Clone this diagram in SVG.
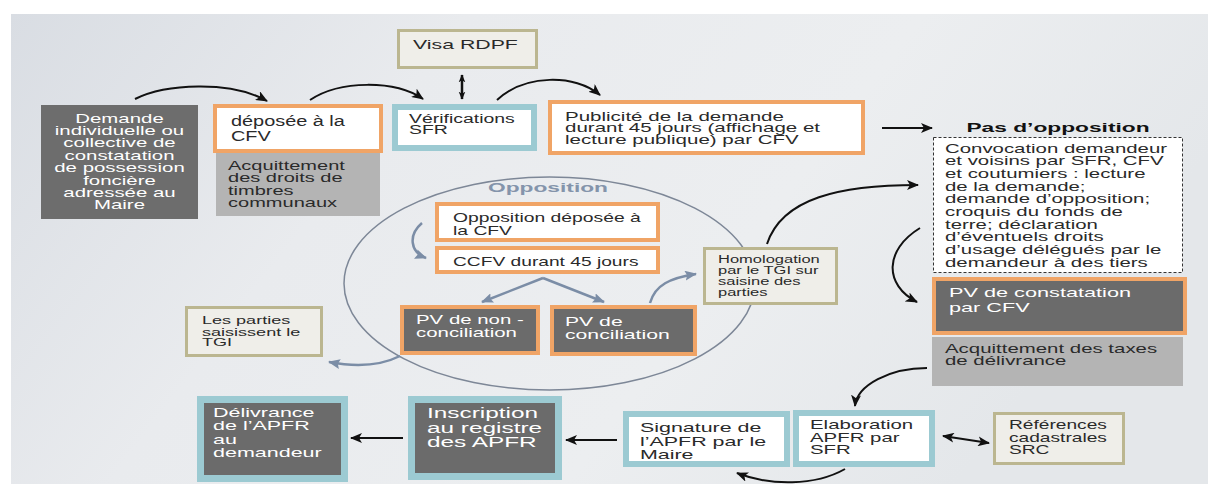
<svg xmlns="http://www.w3.org/2000/svg" width="1208" height="484" viewBox="0 0 1208 484">
<defs>
<linearGradient id="bg" x1="0" y1="0" x2="1" y2="0.3">
<stop offset="0" stop-color="#d9dde3"/>
<stop offset="0.35" stop-color="#e9ebee"/>
<stop offset="0.7" stop-color="#eceef0"/>
<stop offset="1" stop-color="#e4e7ea"/>
</linearGradient>
<marker id="ah" viewBox="0 0 12 10" refX="11" refY="5" markerWidth="12" markerHeight="10" markerUnits="userSpaceOnUse" orient="auto-start-reverse">
<path d="M0,0 L12,5 L0,10 L3,5 z" fill="#111"/>
</marker>
<marker id="ahs" viewBox="0 0 12 10" refX="11" refY="5" markerWidth="8" markerHeight="9" markerUnits="userSpaceOnUse" orient="auto-start-reverse">
<path d="M0,0 L12,5 L0,10 L3,5 z" fill="#111"/>
</marker>
<marker id="ahb" viewBox="0 0 12 10" refX="11" refY="5" markerWidth="12" markerHeight="10" markerUnits="userSpaceOnUse" orient="auto-start-reverse">
<path d="M0,0 L12,5 L0,10 L2,5 z" fill="#7b8da6"/>
</marker>
<style>
.t{font-family:"Liberation Sans",Arial,sans-serif;fill:#2a2a2a}
.w{fill:#ffffff}
.b{font-weight:bold}
.or{fill:#ffffff;stroke:#f0a466;stroke-width:4}
.ord{fill:#6b6b6b;stroke:#f0a466;stroke-width:4}
.bl{fill:#ffffff;stroke:#9ccad2;stroke-width:6}
.bld{fill:#6b6b6b;stroke:#9ccad2;stroke-width:7}
.kh{fill:#efeee9;stroke:#bbb690;stroke-width:3}
.dk{fill:#6d6d6d}
.lg{fill:#b4b4b4}
.ca{fill:none;stroke:#111;stroke-width:2;marker-end:url(#ah)}
.cb{fill:none;stroke:#7b8da6;stroke-width:2.5;marker-end:url(#ahb)}
</style>
</defs>
<rect x="0" y="0" width="1208" height="484" fill="#ffffff"/>
<rect x="11" y="14" width="1197" height="470" fill="url(#bg)"/>

<g id="opposition-zone">
<ellipse cx="549.5" cy="283.5" rx="205.5" ry="106.5" fill="none" stroke="#7d8797" stroke-width="1.5"/>
<text class="t b" transform="translate(548,191.7) scale(1.75,1)" text-anchor="middle" font-size="13" style="fill:#8494ab">Opposition</text>
</g>

<g id="connectors">
<path class="ca" d="M135,99 C165,84 230,80 267,101"/>
<path class="ca" d="M310,100 C340,80 395,80 423,99"/>
<path class="ca" d="M497,100 C525,74 575,74 600,95"/>
<path d="M462,75 L462,99" fill="none" stroke="#111" stroke-width="2.5" marker-start="url(#ahs)" marker-end="url(#ahs)"/>
<path class="ca" d="M882,128 L932,128"/>
<path class="ca" d="M767,244 C782,198 840,185 918,185"/>
<path class="ca" d="M920,228 C884,250 884,285 917,302"/>
<path class="ca" d="M927,368 C890,368 857,385 855,406"/>
<path class="ca" d="M943,436 L989,443" style="marker-start:url(#ah)"/>
<path class="ca" d="M845,469 C815,486 770,486 737,473"/>
<path class="ca" d="M617,440 L566,440"/>
<path class="ca" d="M403,438 L351,438"/>
<path class="cb" d="M422,223 C408,235 410,252 426,258"/>
<path class="cb" d="M543,278 L482,302"/>
<path class="cb" d="M543,278 L604,302"/>
<path class="cb" d="M650,303 C655,285 670,278 696,274"/>
<path class="cb" d="M400,356 C380,366 355,367 329,362"/>
</g>

<g id="demande">
<rect class="dk" x="41" y="105" width="157" height="114"/>
<text class="t w" transform="translate(119.5,122.7) scale(1.57,1)" text-anchor="middle" font-size="13">
<tspan x="0" y="0">Demande</tspan><tspan x="0" y="12.4">individuelle ou</tspan><tspan x="0" y="24.8">collective de</tspan><tspan x="0" y="37.2">constatation</tspan><tspan x="0" y="49.6">de possession</tspan><tspan x="0" y="62">foncière</tspan><tspan x="0" y="74.4">adressée au</tspan><tspan x="0" y="86.8">Maire</tspan>
</text>
</g>

<g id="deposee">
<rect class="or" x="215" y="106" width="166" height="45"/>
<text class="t" transform="translate(231,125.7) scale(1.42,1)" font-size="14"><tspan x="0" y="0">déposée à la</tspan><tspan x="0" y="15">CFV</tspan></text>
</g>

<g id="acquittement-droits">
<rect class="lg" x="216" y="153" width="164" height="63"/>
<text class="t" transform="translate(228,170) scale(1.67,1)" font-size="12"><tspan x="0" y="0">Acquittement</tspan><tspan x="0" y="12.4">des droits de</tspan><tspan x="0" y="24.8">timbres</tspan><tspan x="0" y="36.8">communaux</tspan></text>
</g>

<g id="visa">
<rect class="kh" x="398.5" y="30.5" width="138" height="37"/>
<text class="t" transform="translate(413,49) scale(1.69,1)" font-size="12.6">Visa RDPF</text>
</g>

<g id="verifications">
<rect class="bl" x="395" y="107" width="139" height="41"/>
<text class="t" transform="translate(409,122.7) scale(1.62,1)" font-size="12"><tspan x="0" y="0">Vérifications</tspan><tspan x="0" y="11.6">SFR</tspan></text>
</g>

<g id="publicite">
<rect class="or" x="550" y="102" width="313" height="51"/>
<text class="t" transform="translate(565,120.7) scale(1.63,1)" font-size="12.6"><tspan x="0" y="0">Publicité de la demande</tspan><tspan x="0" y="11.8">durant 45 jours (affichage et</tspan><tspan x="0" y="23.6">lecture publique) par CFV</tspan></text>
</g>

<g id="pas-opposition">
<text class="t b" transform="translate(1058,131.7) scale(1.75,1)" text-anchor="middle" font-size="13" style="fill:#111">Pas d’opposition</text>
<rect x="933.5" y="137.5" width="249" height="135" fill="#ffffff" stroke="#333" stroke-width="1" stroke-dasharray="3,2"/>
<text class="t" transform="translate(945,152.7) scale(1.7,1)" font-size="12"><tspan x="0" y="0">Convocation demandeur</tspan><tspan x="0" y="12.65">et voisins par SFR, CFV</tspan><tspan x="0" y="25.3">et coutumiers : lecture</tspan><tspan x="0" y="37.95">de la demande;</tspan><tspan x="0" y="50.6">demande d’opposition;</tspan><tspan x="0" y="63.25">croquis du fonds de</tspan><tspan x="0" y="75.9">terre; déclaration</tspan><tspan x="0" y="88.55">d’éventuels droits</tspan><tspan x="0" y="101.2">d’usage délégués par le</tspan><tspan x="0" y="113.85">demandeur à des tiers</tspan></text>
</g>

<g id="pv-constatation">
<rect class="ord" x="934" y="279" width="251" height="54"/>
<text class="t w" transform="translate(949,297.3) scale(1.67,1)" font-size="13"><tspan x="0" y="0">PV de constatation</tspan><tspan x="0" y="14.4">par CFV</tspan></text>
</g>

<g id="acquittement-taxes">
<rect class="lg" x="932" y="337" width="251" height="49"/>
<text class="t" transform="translate(945,353.3) scale(1.57,1)" font-size="13"><tspan x="0" y="0">Acquittement des taxes</tspan><tspan x="0" y="12.2">de délivrance</tspan></text>
</g>

<g id="opposition-deposee">
<rect class="or" x="437" y="204" width="221" height="36"/>
<text class="t" transform="translate(453,222.3) scale(1.545,1)" font-size="12.5"><tspan x="0" y="0">Opposition déposée à</tspan><tspan x="0" y="12.7">la CFV</tspan></text>
</g>

<g id="ccfv">
<rect class="or" x="437" y="248" width="221" height="24"/>
<text class="t" transform="translate(453,265.7) scale(1.535,1)" font-size="12.5">CCFV durant 45 jours</text>
</g>

<g id="pv-non-conciliation">
<rect class="ord" x="402" y="307" width="136" height="46"/>
<text class="t w" transform="translate(416,324) scale(1.62,1)" font-size="12.6"><tspan x="0" y="0">PV de non -</tspan><tspan x="0" y="12.7">conciliation</tspan></text>
</g>

<g id="pv-conciliation">
<rect class="ord" x="552" y="307" width="143" height="47"/>
<text class="t w" transform="translate(565,326) scale(1.63,1)" font-size="13"><tspan x="0" y="0">PV de</tspan><tspan x="0" y="13.3">conciliation</tspan></text>
</g>

<g id="homologation">
<rect class="kh" x="704.5" y="248.5" width="132" height="55"/>
<text class="t" transform="translate(718,263.3) scale(1.5,1)" font-size="11"><tspan x="0" y="0">Homologation</tspan><tspan x="0" y="11.1">par le TGI sur</tspan><tspan x="0" y="22.2">saisine des</tspan><tspan x="0" y="33.2">parties</tspan></text>
</g>

<g id="les-parties">
<rect class="kh" x="186.5" y="307.5" width="135" height="48"/>
<text class="t" transform="translate(202,324.3) scale(1.64,1)" font-size="11"><tspan x="0" y="0">Les parties</tspan><tspan x="0" y="11.4">saisissent le</tspan><tspan x="0" y="22.2">TGI</tspan></text>
</g>

<g id="elaboration">
<rect class="bl" x="796" y="413" width="136" height="51"/>
<text class="t" transform="translate(810,429) scale(1.62,1)" font-size="12.6"><tspan x="0" y="0">Elaboration</tspan><tspan x="0" y="12.7">APFR par</tspan><tspan x="0" y="25">SFR</tspan></text>
</g>

<g id="references">
<rect class="kh" x="994.5" y="413.5" width="129" height="50"/>
<text class="t" transform="translate(1009,429) scale(1.52,1)" font-size="12.6"><tspan x="0" y="0">Références</tspan><tspan x="0" y="12.7">cadastrales</tspan><tspan x="0" y="25">SRC</tspan></text>
</g>

<g id="signature">
<rect class="bl" x="626" y="414" width="161" height="50"/>
<text class="t" transform="translate(640,432.3) scale(1.7,1)" font-size="12.6"><tspan x="0" y="0">Signature de</tspan><tspan x="0" y="13.4">l’APFR par le</tspan><tspan x="0" y="26.7">Maire</tspan></text>
</g>

<g id="inscription">
<rect class="bld" x="411.5" y="399.5" width="147" height="77"/>
<text class="t w" transform="translate(427,418.3) scale(1.74,1)" font-size="14"><tspan x="0" y="0">Inscription</tspan><tspan x="0" y="14.5">au registre</tspan><tspan x="0" y="28.7">des APFR</tspan></text>
</g>

<g id="delivrance">
<rect class="bld" x="200.5" y="399.5" width="144" height="79"/>
<text class="t w" transform="translate(213,416.7) scale(1.72,1)" font-size="12.5"><tspan x="0" y="0">Délivrance</tspan><tspan x="0" y="13.3">de l’APFR</tspan><tspan x="0" y="27">au</tspan><tspan x="0" y="40.6">demandeur</tspan></text>
</g>
</svg>
